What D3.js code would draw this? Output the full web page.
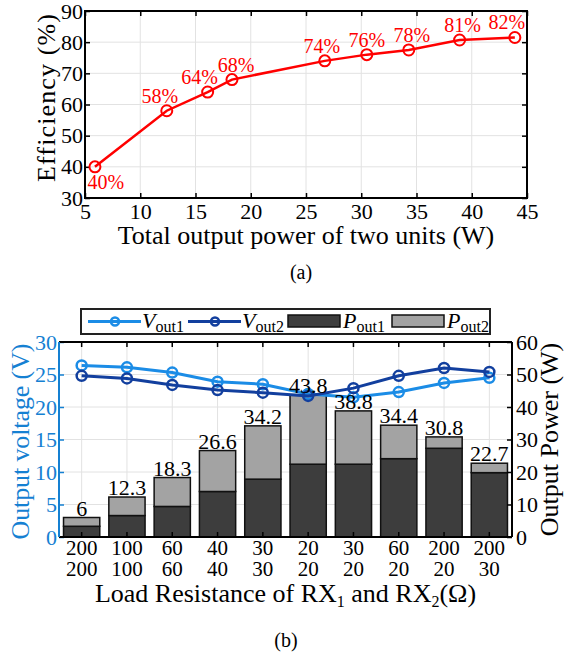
<!DOCTYPE html>
<html>
<head>
<meta charset="utf-8">
<script src="https://cdn.jsdelivr.net/npm/d3@7"></script>
<style>
  body { margin: 0; background: #fff; }
  svg { display: block; }
  svg text { font-family: "Liberation Serif", "DejaVu Serif", serif; }
</style>
</head>
<body>
<div id="chart"></div>
<script>
// (a) efficiency vs total output power
const effPower = [5.9, 12.4, 16.1, 18.3, 26.7, 30.5, 34.3, 38.9, 43.9];
const effValue = [40, 58, 64, 68, 74, 76, 77.5, 80.7, 81.5];
const effLabels = ["40%", "58%", "64%", "68%", "74%", "76%", "78%", "81%", "82%"];
const effXTicks = [5, 10, 15, 20, 25, 30, 35, 40, 45];
const effYTicks = [30, 40, 50, 60, 70, 80, 90];

// (b) load resistance sweep
const rx1 = ["200", "100", "60", "40", "30", "20", "30", "60", "200", "200"];
const rx2 = ["200", "100", "60", "40", "30", "20", "20", "20", "20", "30"];
const pOut1 = [3.3, 6.6, 9.4, 14.0, 17.8, 22.4, 22.4, 24.1, 27.3, 19.8];
const pOut2 = [2.7, 5.7, 8.9, 12.6, 16.4, 21.4, 16.4, 10.3, 3.5, 2.9];
const pTotalLabels = ["6", "12.3", "18.3", "26.6", "34.2", "43.8", "38.8", "34.4", "30.8", "22.7"];
const vOut1 = [26.4, 26.1, 25.3, 23.9, 23.5, 22.0, 21.5, 22.3, 23.7, 24.5];
const vOut2 = [24.8, 24.4, 23.4, 22.6, 22.2, 21.7, 22.9, 24.8, 26.0, 25.4];
const voltTicks = [0, 5, 10, 15, 20, 25, 30];
const powerTicks = [0, 10, 20, 30, 40, 50, 60];

// small horizontal nudges for the percent labels (layout only)
const labelNudge = [11, -7, -8, 4, -3, 0, 3, 3, -8];

const FONT = '"Liberation Serif", "DejaVu Serif", serif';
const blue = "#1580d2", lightBlue = "#1b8ce6", darkBlue = "#123f9e";
const gridColor = "#e2e2e2";

const svg = d3.select("#chart").append("svg")
    .attr("width", 564)
    .attr("height", 654)
    .attr("font-family", FONT);

// ---------- chart (a) ----------
const a = {left: 85, right: 527, top: 11, bottom: 198};
const xA = d3.scaleLinear().domain([5, 45]).range([a.left, a.right]);
const yA = d3.scaleLinear().domain([30, 90]).range([a.bottom, a.top]);

const gA = svg.append("g");

gA.append("g").selectAll("line").data(effXTicks).join("line")
    .attr("x1", d => xA(d)).attr("x2", d => xA(d))
    .attr("y1", a.top).attr("y2", a.bottom)
    .attr("stroke", gridColor).attr("stroke-width", 1);
gA.append("g").selectAll("line").data(effYTicks).join("line")
    .attr("x1", a.left).attr("x2", a.right)
    .attr("y1", d => yA(d)).attr("y2", d => yA(d))
    .attr("stroke", gridColor).attr("stroke-width", 1);

function styleAxis(g, color, size) {
    g.attr("font-family", FONT);
    g.select(".domain").remove();
    g.selectAll(".tick line").attr("stroke", color).attr("stroke-width", 1.5);
    g.selectAll(".tick text").attr("fill", color)
        .attr("font-family", FONT).attr("font-size", size);
}

gA.append("g").attr("transform", `translate(0,${a.bottom})`)
    .call(d3.axisBottom(xA).tickValues(effXTicks).tickSizeInner(-5).tickSizeOuter(0).tickPadding(5))
    .call(g => styleAxis(g, "#000", 22));
gA.append("g").attr("transform", `translate(0,${a.top})`)
    .call(d3.axisTop(xA).tickValues(effXTicks).tickSizeInner(-5).tickSizeOuter(0).tickFormat(""))
    .call(g => styleAxis(g, "#000", 22));
gA.append("g").attr("transform", `translate(${a.left},0)`)
    .call(d3.axisLeft(yA).tickValues(effYTicks).tickSizeInner(-5).tickSizeOuter(0).tickPadding(2))
    .call(g => styleAxis(g, "#000", 22));
gA.append("g").attr("transform", `translate(${a.right},0)`)
    .call(d3.axisRight(yA).tickValues(effYTicks).tickSizeInner(-5).tickSizeOuter(0).tickFormat(""))
    .call(g => styleAxis(g, "#000", 22));

gA.append("rect")
    .attr("x", a.left).attr("y", a.top)
    .attr("width", a.right - a.left).attr("height", a.bottom - a.top)
    .attr("fill", "none").attr("stroke", "#000").attr("stroke-width", 2);

const effPts = effPower.map((p, i) => [p, effValue[i], effLabels[i]]);

gA.append("path").datum(effPts)
    .attr("fill", "none").attr("stroke", "#ff0000").attr("stroke-width", 2.5)
    .attr("d", d3.line().x(d => xA(d[0])).y(d => yA(d[1])));
gA.append("g").selectAll("circle").data(effPts).join("circle")
    .attr("cx", d => xA(d[0])).attr("cy", d => yA(d[1])).attr("r", 5.5)
    .attr("fill", "none").attr("stroke", "#ff0000").attr("stroke-width", 2);
gA.append("g").selectAll("text").data(effPts).join("text")
    .attr("x", (d, i) => xA(d[0]) + labelNudge[i])
    .attr("y", (d, i) => i === 0 ? yA(d[1]) + 22 : yA(d[1]) - 8)
    .attr("text-anchor", "middle")
    .attr("fill", "#ff0000").attr("font-size", 20)
    .text(d => d[2]);

gA.append("text")
    .attr("x", (a.left + a.right) / 2).attr("y", 244)
    .attr("text-anchor", "middle").attr("font-size", 26)
    .text("Total output power of two units (W)");
gA.append("text")
    .attr("transform", `translate(55,98) rotate(-90)`)
    .attr("text-anchor", "middle").attr("font-size", 26)
    .attr("textLength", 168).attr("lengthAdjust", "spacing")
    .text("Efficiency (%)");
svg.append("text")
    .attr("x", 301).attr("y", 279)
    .attr("text-anchor", "middle").attr("font-size", 20)
    .text("(a)");

// ---------- chart (b) ----------
const b = {left: 59, right: 512, top: 342, bottom: 537};
const xB = d3.scaleBand().domain(d3.range(rx1.length)).range([b.left, b.right])
    .paddingInner(0.2).paddingOuter(0.1);
const yV = d3.scaleLinear().domain([0, 30]).range([b.bottom, b.top]);
const yP = d3.scaleLinear().domain([0, 60]).range([b.bottom, b.top]);
const cx = i => xB(i) + xB.bandwidth() / 2;

const gB = svg.append("g");

gB.append("g").selectAll("line").data(d3.range(rx1.length)).join("line")
    .attr("x1", cx).attr("x2", cx)
    .attr("y1", b.top).attr("y2", b.bottom)
    .attr("stroke", gridColor).attr("stroke-width", 1);
gB.append("g").selectAll("line").data(voltTicks).join("line")
    .attr("x1", b.left).attr("x2", b.right)
    .attr("y1", d => yV(d)).attr("y2", d => yV(d))
    .attr("stroke", gridColor).attr("stroke-width", 1);

// stacked bars
const barData = pOut1.map((p1, i) => ({i, p1, p2: pOut2[i], label: pTotalLabels[i]}));
gB.append("g").selectAll("rect").data(barData).join("rect")
    .attr("x", d => xB(d.i)).attr("width", xB.bandwidth())
    .attr("y", d => yP(d.p1)).attr("height", d => yP(0) - yP(d.p1))
    .attr("fill", "#3d3d3d").attr("stroke", "#111").attr("stroke-width", 1.5);
gB.append("g").selectAll("rect").data(barData).join("rect")
    .attr("x", d => xB(d.i)).attr("width", xB.bandwidth())
    .attr("y", d => yP(d.p1 + d.p2)).attr("height", d => yP(d.p1) - yP(d.p1 + d.p2))
    .attr("fill", "#a3a3a3").attr("stroke", "#111").attr("stroke-width", 1.5);

// axes
gB.append("g").attr("transform", `translate(0,${b.bottom})`)
    .call(d3.axisBottom(xB).tickSizeInner(-5).tickSizeOuter(0).tickFormat(""))
    .call(g => styleAxis(g, "#000", 22));
gB.append("g").attr("transform", `translate(0,${b.top})`)
    .call(d3.axisTop(xB).tickSizeInner(-5).tickSizeOuter(0).tickFormat(""))
    .call(g => styleAxis(g, "#000", 22));
gB.append("g").attr("transform", `translate(${b.left},0)`)
    .call(d3.axisLeft(yV).tickValues(voltTicks).tickSizeInner(-5).tickSizeOuter(0).tickPadding(2))
    .call(g => styleAxis(g, blue, 22));
gB.append("g").attr("transform", `translate(${b.right},0)`)
    .call(d3.axisRight(yP).tickValues(powerTicks).tickSizeInner(-5).tickSizeOuter(0).tickPadding(4))
    .call(g => styleAxis(g, "#000", 22));

gB.append("line").attr("x1", b.left).attr("x2", b.right).attr("y1", b.top).attr("y2", b.top)
    .attr("stroke", "#000").attr("stroke-width", 2);
gB.append("line").attr("x1", b.left).attr("x2", b.right).attr("y1", b.bottom).attr("y2", b.bottom)
    .attr("stroke", "#000").attr("stroke-width", 2);
gB.append("line").attr("x1", b.right).attr("x2", b.right).attr("y1", b.top).attr("y2", b.bottom)
    .attr("stroke", "#000").attr("stroke-width", 2);
gB.append("line").attr("x1", b.left).attr("x2", b.left).attr("y1", b.top).attr("y2", b.bottom)
    .attr("stroke", blue).attr("stroke-width", 2);

// voltage lines
const vLine = d3.line().x(d => cx(d[0])).y(d => yV(d[1]));
[[vOut1, lightBlue], [vOut2, darkBlue]].forEach(([vals, color]) => {
    const pts = vals.map((v, i) => [i, v]);
    gB.append("path").datum(pts)
        .attr("fill", "none").attr("stroke", color).attr("stroke-width", 3)
        .attr("d", vLine);
    gB.append("g").selectAll("circle").data(pts).join("circle")
        .attr("cx", d => cx(d[0])).attr("cy", d => yV(d[1])).attr("r", 5)
        .attr("fill", "none").attr("stroke", color).attr("stroke-width", 2.5);
});

// total labels
gB.append("g").selectAll("text").data(barData).join("text")
    .attr("x", d => cx(d.i)).attr("y", d => yP(d.p1 + d.p2) - 2)
    .attr("text-anchor", "middle").attr("font-size", 22)
    .text(d => d.label);

// x tick labels (two rows)
gB.append("g").selectAll("text").data(d3.range(rx1.length)).join("text")
    .attr("x", cx).attr("y", 555)
    .attr("text-anchor", "middle").attr("font-size", 21)
    .text(i => rx1[i]);
gB.append("g").selectAll("text").data(d3.range(rx2.length)).join("text")
    .attr("x", cx).attr("y", 576)
    .attr("text-anchor", "middle").attr("font-size", 21)
    .text(i => rx2[i]);

// axis titles
const tb = gB.append("text")
    .attr("x", (b.left + b.right) / 2).attr("y", 602)
    .attr("text-anchor", "middle").attr("font-size", 26);
tb.append("tspan").text("Load Resistance of RX");
tb.append("tspan").attr("dy", 5).attr("font-size", 16).text("1");
tb.append("tspan").attr("dy", -5).text(" and RX");
tb.append("tspan").attr("dy", 5).attr("font-size", 16).text("2");
tb.append("tspan").attr("dy", -5).text("(Ω)");

gB.append("text")
    .attr("transform", `translate(29,${(b.top + b.bottom) / 2 + 2}) rotate(-90)`)
    .attr("text-anchor", "middle").attr("fill", blue).attr("font-size", 26)
    .attr("textLength", 196).attr("lengthAdjust", "spacing")
    .text("Output voltage (V)");
gB.append("text")
    .attr("transform", `translate(558,${(b.top + b.bottom) / 2}) rotate(-90)`)
    .attr("text-anchor", "middle").attr("font-size", 26)
    .text("Output Power (W)");

svg.append("text")
    .attr("x", 286).attr("y", 647)
    .attr("text-anchor", "middle").attr("font-size", 20)
    .text("(b)");

// legend
const lg = svg.append("g");
lg.append("rect").attr("x", 81).attr("y", 309).attr("width", 409).attr("height", 25)
    .attr("fill", "#fff").attr("stroke", "#222").attr("stroke-width", 2);

function legendLabel(x, main, sub) {
    const t = lg.append("text").attr("x", x).attr("y", 328).attr("font-size", 22);
    t.append("tspan").attr("font-style", "italic").text(main);
    t.append("tspan").attr("dy", 4).attr("font-size", 16).text(sub);
}
[[88, lightBlue, "out1"], [188, darkBlue, "out2"]].forEach(([x0, color, sub]) => {
    lg.append("line").attr("x1", x0).attr("x2", x0 + 53).attr("y1", 321.5).attr("y2", 321.5)
        .attr("stroke", color).attr("stroke-width", 3);
    lg.append("circle").attr("cx", x0 + 27).attr("cy", 321.5).attr("r", 4)
        .attr("fill", "none").attr("stroke", color).attr("stroke-width", 2.5);
    legendLabel(x0 + 54, "V", sub);
});
[[288, "#3d3d3d", "out1"], [392, "#a3a3a3", "out2"]].forEach(([x0, color, sub]) => {
    lg.append("rect").attr("x", x0).attr("y", 315).attr("width", 52).attr("height", 12)
        .attr("fill", color).attr("stroke", "#111").attr("stroke-width", 1.5);
    legendLabel(x0 + 55, "P", sub);
});
</script>
</body>
</html>
